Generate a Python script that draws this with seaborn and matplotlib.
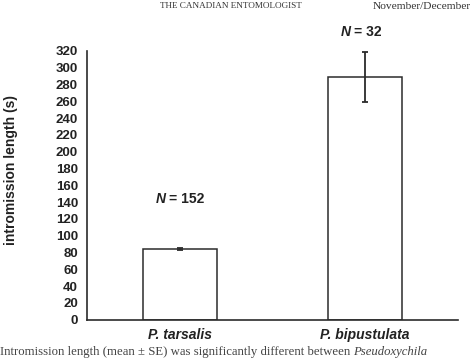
import numpy as np
import pandas as pd
import matplotlib
matplotlib.use("Agg")
import matplotlib.pyplot as plt
import seaborn as sns

# ─── Data ────────────────────────────────────────────────────────────────────
species = ["P. tarsalis", "P. bipustulata"]
mean_len = [84, 289]     # intromission length (s)
se_len = [1, 30]
n_labels = ["152", "32"]
n_label_y = [144, 343]
y_ticks = list(range(0, 321, 20))

df = pd.DataFrame({"species": species, "length": mean_len, "se": se_len})

sns.set_style("white")
plt.rcParams["font.family"] = ["Liberation Sans", "DejaVu Sans"]
serif = ["Liberation Serif", "DejaVu Serif"]

fig = plt.figure(figsize=(4.74, 3.59), dpi=100)
ax = fig.add_axes([0.1835, 0.1095, 0.7825, 0.7485])

ink = "#2b2b2b"
sns.barplot(data=df, x="species", y="length", ax=ax, width=0.4,
            color="white", edgecolor=ink, linewidth=1.1, errorbar=None)
ax.errorbar(np.arange(len(species)), df["length"], yerr=df["se"],
            fmt="none", ecolor=ink, elinewidth=1.3, capsize=2.5, capthick=1.3)

ax.set_xlim(-0.5, 1.5)
ax.set_ylim(0, 320)
ax.set_yticks(y_ticks)
ax.set_yticklabels([str(t) for t in y_ticks], fontsize=9.5, fontweight="bold", color="#222")
ax.set_xticks(range(len(species)))
ax.set_xticklabels(species, fontsize=10, fontweight="bold", style="italic", color="#222")
ax.tick_params(axis="y", direction="inout", length=7, width=1.1, color=ink, pad=3)
ax.tick_params(axis="x", length=0, pad=6)
ax.set_xlabel("")
ax.set_ylabel("intromission length (s)", fontsize=10, fontweight="bold", color="#222")
ax.yaxis.set_label_coords(-0.185, 0.558)

for s in ["top", "right"]:
    ax.spines[s].set_visible(False)
for s in ["left", "bottom"]:
    ax.spines[s].set_color(ink)
    ax.spines[s].set_linewidth(1.2)

# N = ... labels above the bars
for i, (lab, yy) in enumerate(zip(n_labels, n_label_y)):
    ax.text(i - 0.075, yy, "N", ha="right", va="center", fontsize=10,
            fontweight="bold", style="italic", color="#222", clip_on=False)
    ax.text(i - 0.058, yy, "= " + lab, ha="left", va="center", fontsize=10,
            fontweight="bold", color="#222", clip_on=False)

# page header and caption from the scanned page
fig.text(0.338, 0.983, "THE CANADIAN ENTOMOLOGIST", fontsize=6.6,
         family=serif, color="#333", va="center")
fig.text(0.787, 0.981, "November/December", fontsize=8.2,
         family=serif, color="#333", va="center")
cap = fig.text(0.0, 0.012, "Intromission length (mean \u00b1 SE) was significantly different between ",
               fontsize=9.2, family=serif, color="#444", va="baseline")
r = fig.canvas.get_renderer()
bb = cap.get_window_extent(renderer=r)
fig.text(bb.x1 / fig.bbox.width, 0.012, "Pseudoxychila", fontsize=9.2, family=serif,
         style="italic", color="#444", va="baseline")

fig.savefig("out.png", dpi=100)
